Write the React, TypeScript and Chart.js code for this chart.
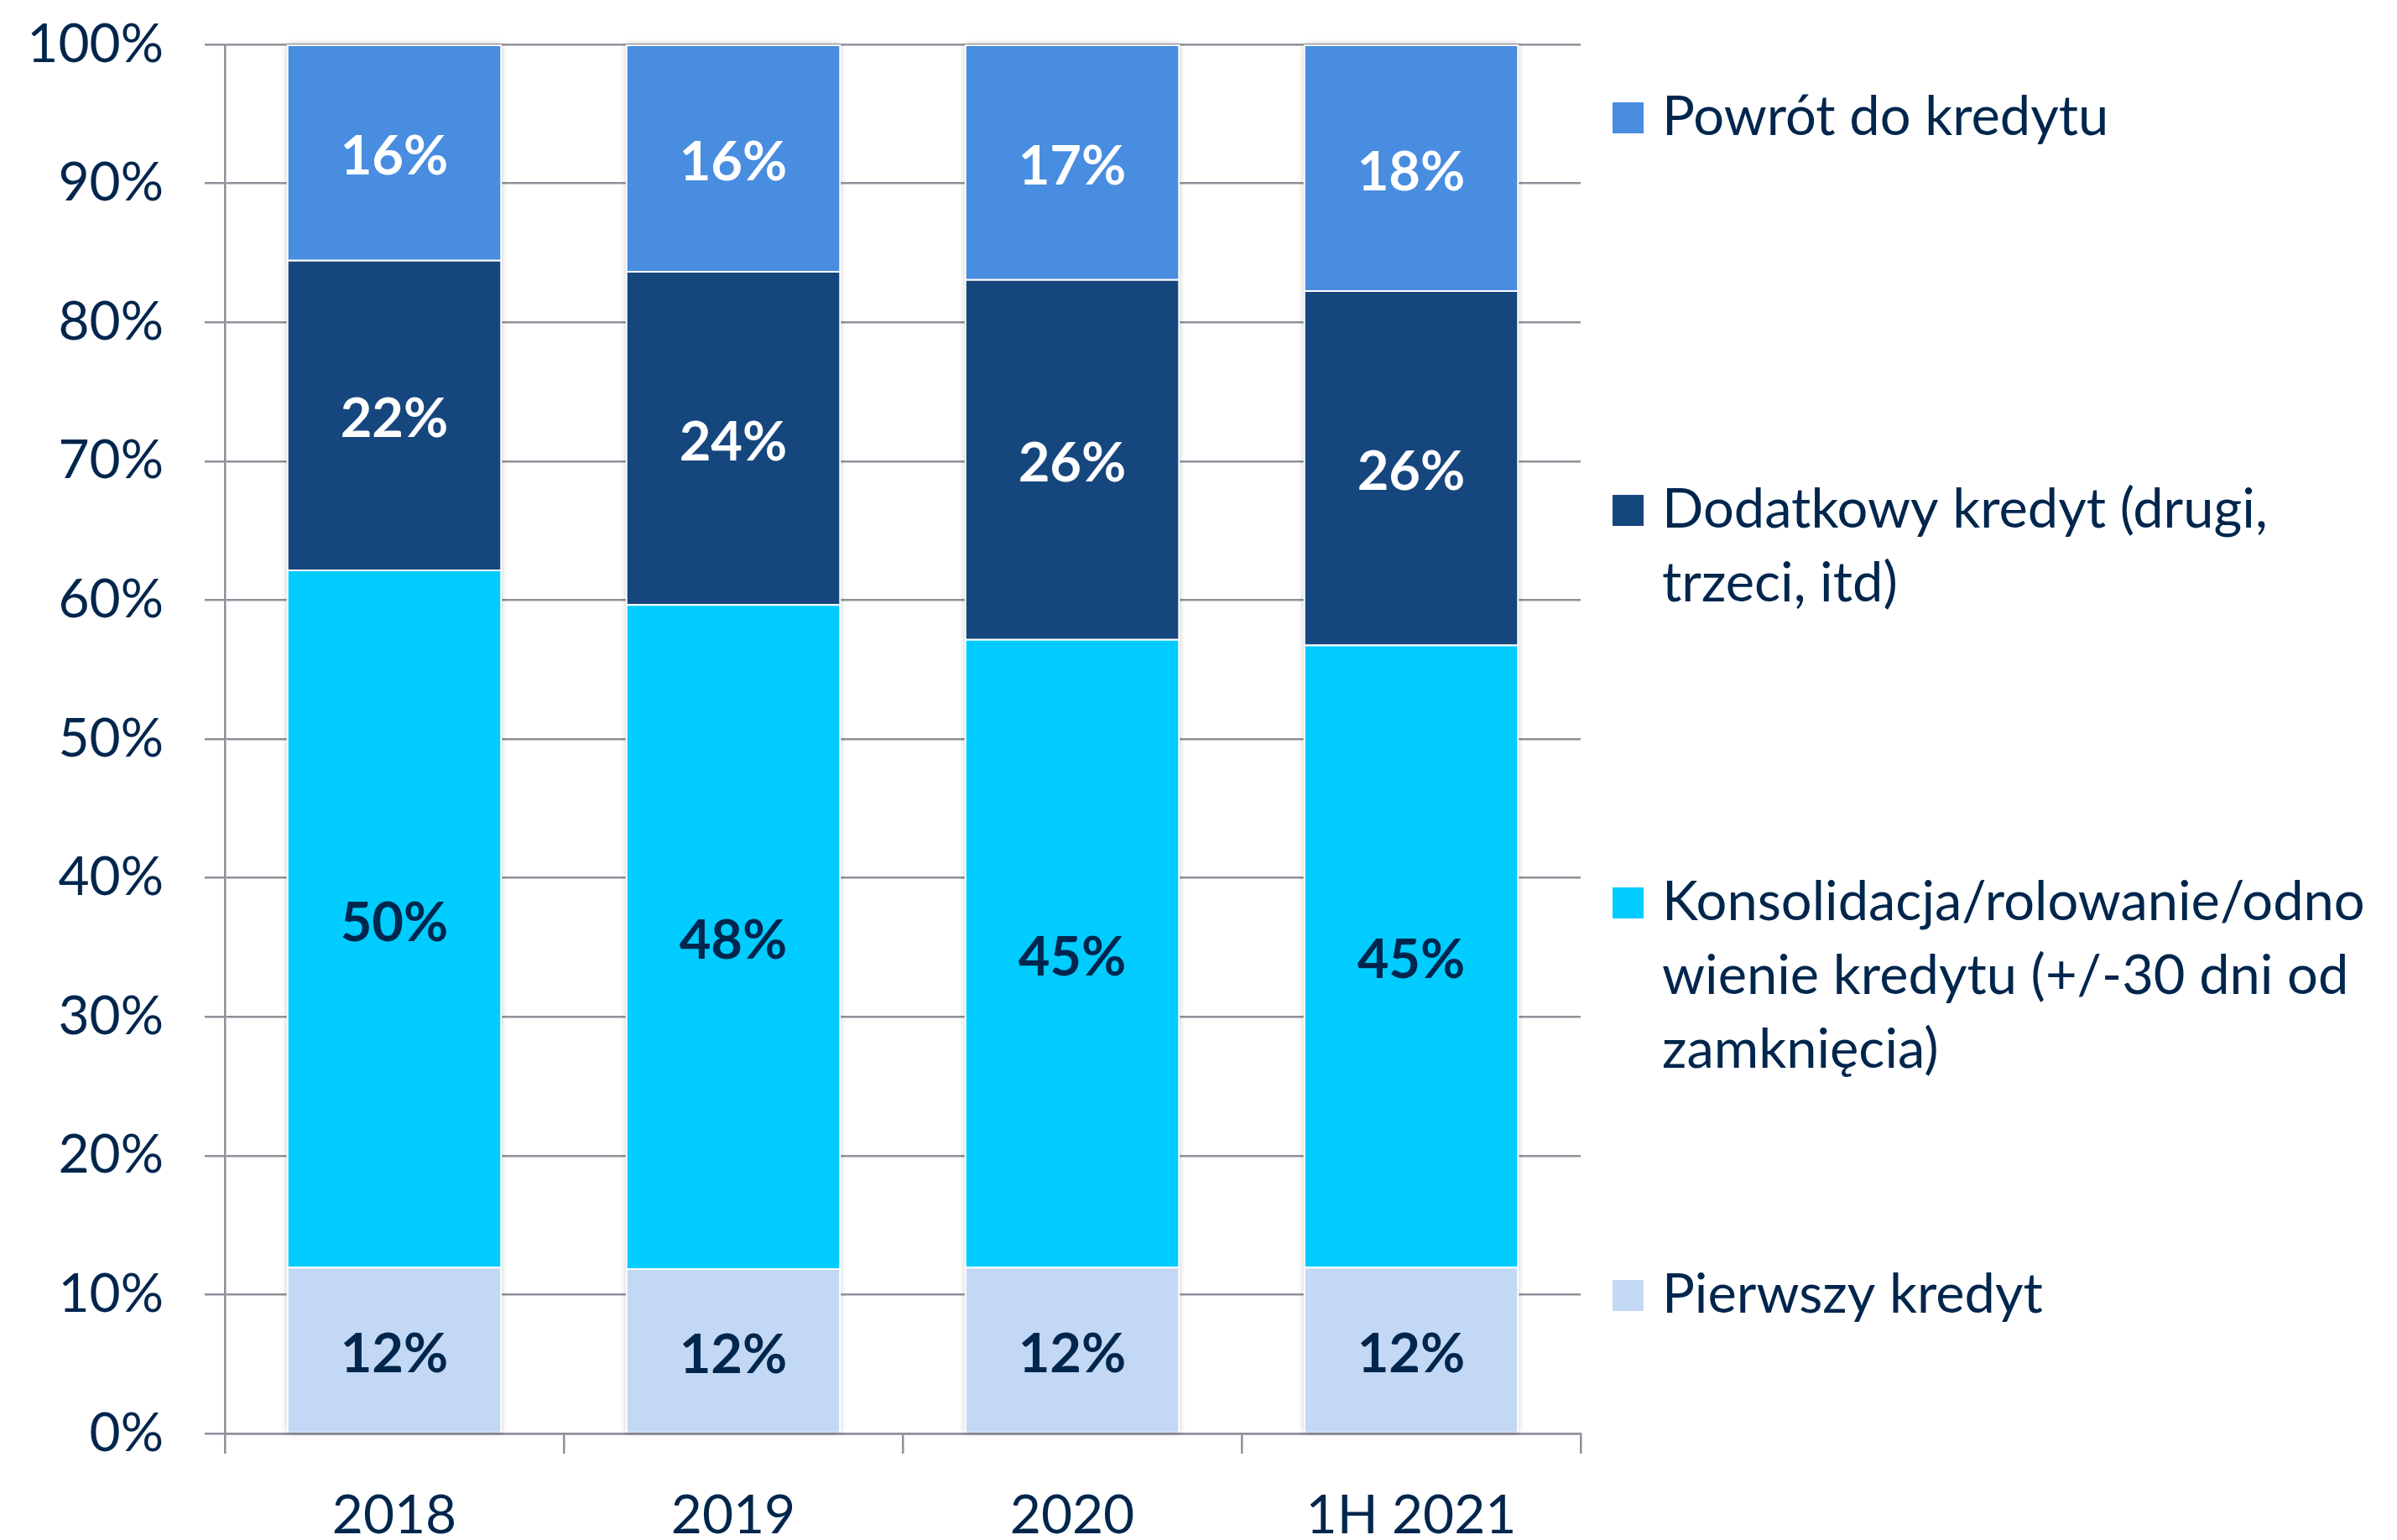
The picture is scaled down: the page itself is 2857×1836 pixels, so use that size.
import React, { useEffect, useRef } from "react";
import { Chart, registerables } from "chart.js";

Chart.register(...registerables);

// ---- data ----
const categories = ["2018", "2019", "2020", "1H 2021"];
const pierwszyKredyt = [12.0, 11.9, 12.0, 12.0];
const konsolidacja = [50.2, 47.8, 45.2, 44.8];
const dodatkowyKredyt = [22.3, 24.0, 25.9, 25.5];
const powrotDoKredytu = [15.5, 16.3, 16.9, 17.7];
const seriesNames = [
  "Pierwszy kredyt",
  "Konsolidacja/rolowanie/odnowienie kredytu (+/-30 dni od zamknięcia)",
  "Dodatkowy kredyt (drugi, trzeci, itd)",
  "Powrót do kredytu",
];
// legend text as it wraps in the reference (bottom series first, like seriesNames)
const legendLines = [
  ["Pierwszy kredyt"],
  ["Konsolidacja/rolowanie/odno", "wienie kredytu (+/-30 dni od", "zamknięcia)"],
  ["Dodatkowy kredyt (drugi,", "trzeci, itd)"],
  ["Powrót do kredytu"],
];

// ---- styles ----
const COLORS = ["#C3D8F4", "#00CCFF", "#16467E", "#488DE0"];
const LABEL_COLORS = ["#00264D", "#00264D", "#FFFFFF", "#FFFFFF"];
const TEXT = "#00264D";
const GRID = "#8E9199";
const FONT = "Lato, 'Open Sans', sans-serif";

const shadowPlugin = {
  id: "barShadow",
  beforeDatasetsDraw(chart: any) {
    const ctx = chart.ctx;
    const n = chart.data.datasets.length;
    const bottomMeta = chart.getDatasetMeta(0);
    const topMeta = chart.getDatasetMeta(n - 1);
    ctx.save();
    ctx.shadowColor = "rgba(0,0,0,0.28)";
    ctx.shadowBlur = 7;
    ctx.fillStyle = "#FFFFFF";
    bottomMeta.data.forEach((el: any, i: number) => {
      const t = topMeta.data[i];
      const x0 = el.x - el.width / 2;
      const y0 = t.y;
      const y1 = el.base;
      ctx.fillRect(x0, y0, el.width, y1 - y0);
    });
    ctx.restore();
  },
};

const labelPlugin = {
  id: "segLabels",
  afterDatasetsDraw(chart: any) {
    const ctx = chart.ctx;
    ctx.save();
    ctx.font = `bold 65px ${FONT}`;
    ctx.textAlign = "center";
    ctx.textBaseline = "middle";
    chart.data.datasets.forEach((ds: any, di: number) => {
      const meta = chart.getDatasetMeta(di);
      meta.data.forEach((el: any, i: number) => {
        const p = el.getCenterPoint();
        ctx.fillStyle = LABEL_COLORS[di];
        ctx.fillText(Math.round(ds.data[i]) + "%", p.x, p.y + 6);
      });
    });
    ctx.restore();
  },
};

const legendPlugin = {
  id: "sideLegend",
  afterDraw(chart: any) {
    const ctx = chart.ctx;
    const area = chart.chartArea;
    const n = chart.data.datasets.length;
    const markerX = area.right + 38;
    const textX = area.right + 97;
    const firstY = 140;
    const step = 468;
    const lineH = 88;
    ctx.save();
    ctx.font = `65px ${FONT}`;
    ctx.textAlign = "left";
    ctx.textBaseline = "middle";
    for (let k = 0; k < n; k++) {
      const di = n - 1 - k; // top series first
      const y0 = firstY + k * step;
      ctx.fillStyle = chart.data.datasets[di].backgroundColor;
      ctx.fillRect(markerX, y0 - 18, 37, 37);
      ctx.fillStyle = TEXT;
      legendLines[di].forEach((line, li) => {
        ctx.fillText(line, textX, y0 + li * lineH);
      });
    }
    ctx.restore();
  },
};

export default function App() {
  const ref = useRef<HTMLCanvasElement | null>(null);

  useEffect(() => {
    document.body.style.margin = "0";
    document.body.style.overflow = "hidden";
    const series = [pierwszyKredyt, konsolidacja, dodatkowyKredyt, powrotDoKredytu];
    const chart = new Chart(ref.current as HTMLCanvasElement, {
      type: "bar",
      data: {
        labels: categories,
        datasets: series.map((d, i) => ({
          label: seriesNames[i],
          data: d,
          backgroundColor: COLORS[i],
          borderColor: "#FFFFFF",
          borderWidth: 2,
          categoryPercentage: 0.635,
          barPercentage: 1,
        })),
      },
      options: {
        animation: false,
        responsive: false,
        devicePixelRatio: 1,
        layout: { padding: { top: 53, right: 973, bottom: 0, left: 0 } },
        plugins: {
          legend: { display: false },
          tooltip: { enabled: false },
        },
        scales: {
          x: {
            stacked: true,
            afterFit: (s: any) => {
              s.height = 127;
              s.paddingLeft = 0;
              s.paddingRight = 0;
            },
            grid: {
              display: true,
              drawOnChartArea: false,
              drawTicks: true,
              tickLength: 24,
              color: GRID,
              lineWidth: 2.5,
            },
            border: { display: true, color: GRID, width: 2.5 },
            ticks: {
              color: TEXT,
              font: { family: FONT, size: 64 },
              padding: 36,
              maxRotation: 0,
            },
          },
          y: {
            stacked: true,
            min: 0,
            max: 100,
            afterFit: (s: any) => {
              s.width = 268;
              s.paddingTop = 0;
              s.paddingBottom = 0;
            },
            grid: {
              color: GRID,
              lineWidth: 2.5,
              drawTicks: true,
              tickLength: 24,
            },
            border: { display: true, color: GRID, width: 2.5 },
            ticks: {
              stepSize: 10,
              color: TEXT,
              font: { family: FONT, size: 64 },
              padding: 49,
              callback: (v: any) => v + "%",
            },
          },
        },
      },
      plugins: [shadowPlugin, labelPlugin, legendPlugin],
    });
    return () => chart.destroy();
  }, []);

  return (
    <canvas
      ref={ref}
      width={2857}
      height={1836}
      style={{ display: "block", width: "2857px", height: "1836px" }}
    />
  );
}
